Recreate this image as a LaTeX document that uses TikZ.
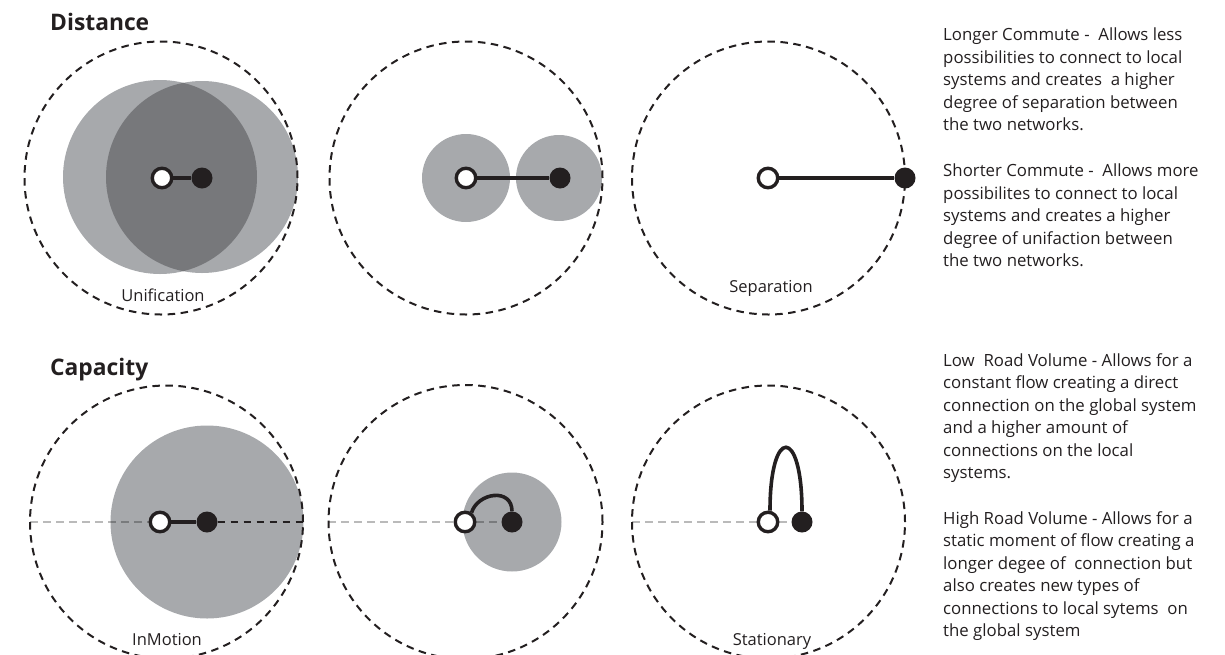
\documentclass[tikz,border=0pt]{standalone}
\usepackage{fontspec}
\setmainfont{Open Sans}
\begin{document}
\begin{tikzpicture}[x=1pt,y=1pt,
  txt/.style={text=ink,inner sep=0pt},
  title/.style={txt,font=\fontsize{22.8}{26}\selectfont\bfseries,anchor=west},
  lbl/.style={txt,font=\fontsize{16.5}{19}\selectfont},
  para/.style={txt,font=\fontsize{16.8}{22.5}\selectfont,align=left,anchor=north west},
  ring/.style={draw=ink,line width=2pt,dash pattern=on 7.5pt off 5.5pt},
  opennode/.style={circle,draw=ink,fill=white,line width=3.4pt,minimum size=19.5pt,inner sep=0pt},
  fullnode/.style={circle,fill=ink,minimum size=21pt,inner sep=0pt},
  link/.style={draw=ink,line width=3.6pt},
  axisl/.style={draw=black,draw opacity=0.27,line width=1.8pt,dash pattern=on 7.5pt off 5.5pt},
  axisd/.style={draw=ink,line width=2pt,dash pattern=on 7.5pt off 5.5pt},
]
\definecolor{ink}{HTML}{231F20}
\definecolor{zonegray}{HTML}{A7A9AC}
\definecolor{zonedark}{HTML}{77787B}
\useasboundingbox (0,0) rectangle (1225,-654);

% ---------- titles ----------
\node[title] (t1) at (50,-22) {Distance};
\node[title] (t2) at (50,-370) {Capacity};

% ---------- Distance: circle 1 ----------
\fill[zonegray] (160,-177) circle (97);
\fill[zonegray] (202,-177) circle (96);
\begin{scope}
  \clip (160,-177) circle (97);
  \fill[zonedark] (202,-177) circle (96);
\end{scope}
\draw[ring] (161,-178) circle (136.5);
\node[opennode] (o1) at (162,-178) {};
\node[fullnode] (f1) at (202,-178) {};
\draw[link] (o1) -- (f1);
\node[lbl] (l1) at (163,-295) {Unification};

% ---------- Distance: circle 2 ----------
\fill[zonegray] (466,-178) circle (44);
\fill[zonegray] (559,-178) circle (43);
\draw[ring] (466,-178) circle (136.5);
\node[opennode] (o2) at (466,-178) {};
\node[fullnode] (f2) at (560,-178) {};
\draw[link] (o2) -- (f2);

% ---------- Distance: circle 3 ----------
\draw[ring] (768.5,-178) circle (136.5);
\node[opennode] (o3) at (768,-178) {};
\node[fullnode] (f3) at (905,-178) {};
\draw[link] (o3) -- (f3);
\node[lbl] (l3) at (771,-288) {Separation};

% ---------- Capacity: circle 1 ----------
\fill[zonegray] (207,-522) circle (96.5);
\coordinate (a4) at (30,-522);
\coordinate (b4) at (303,-522);
\node[opennode] (o4) at (160,-522) {};
\node[fullnode] (f4) at (207,-522) {};
\draw[axisl] (a4) -- (o4);
\draw[axisd] (f4) -- (b4);
\draw[ring] (166.5,-522) circle (136.5);
\draw[link] (o4) -- (f4);
\node[lbl] (l4) at (167,-640) {InMotion};

% ---------- Capacity: circle 2 ----------
\fill[zonegray] (512,-522) circle (49.5);
\coordinate (a5) at (328,-522);
\node[opennode] (o5) at (465,-522) {};
\node[fullnode] (f5) at (512,-522) {};
\draw[axisl] (a5) -- (o5);
\draw[axisl] (o5) -- (f5);
\draw[ring] (465.5,-522) circle (137);
\draw[link] (o5.55) .. controls +(6,20) and +(0,24) .. (f5.north);

% ---------- Capacity: circle 3 ----------
\coordinate (a6) at (632,-522);
\node[opennode] (o6) at (768,-522) {};
\node[fullnode] (f6) at (802,-522) {};
\draw[axisl] (a6) -- (o6);
\draw[axisl] (o6) -- (f6);
\draw[ring] (768.5,-522) circle (136.5);
\draw[link] (o6.80) .. controls +(0,85) and +(0,85) .. (f6.north);
\node[lbl] (l6) at (772,-641) {Stationary};

% ---------- explanatory text ----------
\node[para] (p1) at (943,-28) {Longer Commute -\ \ Allows less\\possibilities to connect to local\\systems and creates\ \ a higher\\degree of separation between\\the two networks.};
\node[para] (p2) at (943,-164) {Shorter Commute -\ \ Allows more\\possibilites to connect to local\\systems and creates a higher\\degree of unifaction between\\the two networks.};
\node[para] (p3) at (943,-353) {Low\ \ Road Volume - Allows for a\\constant flow creating a direct\\connection on the global system\\and a higher amount of\\connections on the local\\systems.};
\node[para] (p4) at (943,-511) {High Road Volume - Allows for a\\static moment of flow creating a\\longer degee of\ \ connection but\\also creates new types of\\connections to local sytems\ \ on\\the global system};
\end{tikzpicture}
\end{document}
